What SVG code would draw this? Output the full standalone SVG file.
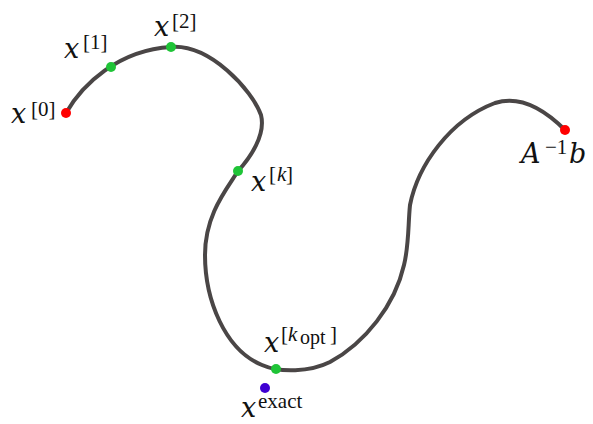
<svg xmlns="http://www.w3.org/2000/svg" width="593" height="424" viewBox="0 0 593 424">
<style>
.m{font-family:"DejaVu Serif","Liberation Serif",serif;font-size:27px;font-style:italic;fill:#111}
.s{font-family:"Liberation Serif","DejaVu Serif",serif;font-size:21px;fill:#111}
.si{font-family:"Liberation Serif","DejaVu Serif",serif;font-size:21px;font-style:italic;fill:#111}
.ss{font-family:"Liberation Serif","DejaVu Serif",serif;font-size:20px;fill:#111}
.g{fill:#1fc437}
.r{fill:#f00}
</style>
<rect width="593" height="424" fill="#fff"/>
<g id="connectors">
<path d="M66,113 C82,85 118,50 171,47 C210,44 252,90 261,115 C266,135 250,158 238,171 C226,190 205,215 205,255 C205,300 225,350 262,365 C280,373 310,372 330,362 C365,343 395,305 404,265 C409,245 408,225 410,205 C418,165 450,120 495,103 C520,95 545,110 565,130" fill="none" stroke="#4a4646" stroke-width="4" stroke-linecap="round"/>
</g>
<g id="x0"><circle class="r" cx="66" cy="113" r="5"/><text class="m" x="11" y="123">x</text><text class="s" x="31" y="116">[0]</text></g>
<g id="x1"><circle class="g" cx="111" cy="67" r="5"/><text class="m" x="64" y="58">x</text><text class="s" x="83" y="49">[1]</text></g>
<g id="x2"><circle class="g" cx="171" cy="47" r="5"/><text class="m" x="154" y="36">x</text><text class="s" x="172" y="28">[2]</text></g>
<g id="xk"><circle class="g" cx="238" cy="171" r="5"/><text class="m" x="251" y="191">x</text><text class="s" x="269" y="181">[</text><text class="si" x="277" y="181">k</text><text class="s" x="286" y="181">]</text></g>
<g id="xkopt"><circle class="g" cx="276" cy="369" r="5"/><text class="m" x="264" y="352">x</text><text class="s" x="281" y="341">[</text><text class="si" x="288" y="341">k</text><text class="ss" x="300" y="344">opt</text><text class="s" x="330" y="341">]</text></g>
<g id="xexact"><circle cx="265" cy="388" r="5" fill="#3f00d2"/><text class="m" x="241" y="417">x</text><text class="s" x="258" y="408" font-size="25">exact</text></g>
<g id="sol"><circle class="r" cx="565" cy="130" r="5"/><text class="m" x="521" y="163">A</text><text class="s" x="545" y="154">−1</text><text class="m" x="569" y="163">b</text></g>
</svg>
